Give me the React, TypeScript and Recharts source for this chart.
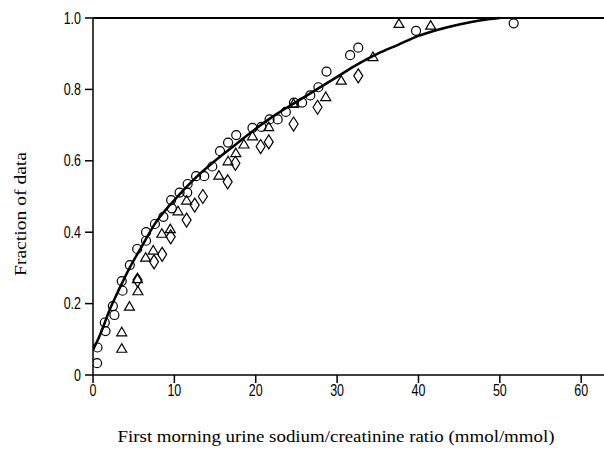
import React from 'react';
import { ComposedChart, XAxis, YAxis, Line, Scatter, ReferenceLine, Label } from 'recharts';

// Cumulative fraction of observations, three groups (open circles, triangles, diamonds)
const circlePoints = [
  { x: 0.5, y: 0.033 }, { x: 0.55, y: 0.077 }, { x: 1.45, y: 0.147 }, { x: 1.54, y: 0.123 },
  { x: 2.44, y: 0.193 }, { x: 2.63, y: 0.168 }, { x: 3.53, y: 0.263 }, { x: 3.63, y: 0.236 },
  { x: 4.53, y: 0.308 }, { x: 5.43, y: 0.353 }, { x: 6.52, y: 0.376 }, { x: 6.52, y: 0.4 },
  { x: 7.61, y: 0.423 }, { x: 8.65, y: 0.443 }, { x: 9.6, y: 0.49 }, { x: 9.69, y: 0.467 },
  { x: 10.64, y: 0.511 }, { x: 11.58, y: 0.511 }, { x: 11.63, y: 0.535 }, { x: 12.67, y: 0.557 },
  { x: 13.67, y: 0.557 }, { x: 14.66, y: 0.584 }, { x: 15.61, y: 0.627 }, { x: 16.6, y: 0.651 },
  { x: 17.6, y: 0.672 }, { x: 19.6, y: 0.692 }, { x: 20.7, y: 0.695 }, { x: 21.7, y: 0.716 },
  { x: 22.7, y: 0.716 }, { x: 23.7, y: 0.737 }, { x: 24.7, y: 0.763 }, { x: 25.7, y: 0.763 },
  { x: 26.7, y: 0.783 }, { x: 27.7, y: 0.806 }, { x: 28.7, y: 0.85 }, { x: 31.6, y: 0.896 },
  { x: 32.6, y: 0.917 }, { x: 39.7, y: 0.964 }, { x: 51.7, y: 0.985 },
];

const trianglePoints = [
  { x: 3.53, y: 0.075 }, { x: 3.53, y: 0.121 }, { x: 4.48, y: 0.193 }, { x: 5.52, y: 0.236 },
  { x: 5.47, y: 0.27 }, { x: 6.47, y: 0.33 }, { x: 7.4, y: 0.35 }, { x: 8.46, y: 0.397 },
  { x: 9.5, y: 0.41 }, { x: 10.45, y: 0.46 }, { x: 11.5, y: 0.49 }, { x: 15.47, y: 0.56 },
  { x: 16.6, y: 0.6 }, { x: 17.55, y: 0.623 }, { x: 18.55, y: 0.647 }, { x: 19.6, y: 0.67 },
  { x: 21.6, y: 0.696 }, { x: 24.65, y: 0.761 }, { x: 28.6, y: 0.78 }, { x: 30.5, y: 0.826 },
  { x: 34.4, y: 0.892 }, { x: 37.6, y: 0.985 }, { x: 41.5, y: 0.98 },
];

const diamondPoints = [
  { x: 5.47, y: 0.266 }, { x: 7.5, y: 0.317 }, { x: 8.5, y: 0.338 }, { x: 9.55, y: 0.387 },
  { x: 11.5, y: 0.434 }, { x: 12.5, y: 0.476 }, { x: 13.5, y: 0.5 }, { x: 16.55, y: 0.541 },
  { x: 17.5, y: 0.593 }, { x: 20.6, y: 0.64 }, { x: 21.6, y: 0.653 }, { x: 24.65, y: 0.703 },
  { x: 27.6, y: 0.75 }, { x: 32.6, y: 0.838 },
];

// Fitted cumulative curve
const fitCurve = [
  { x: 0, y: 0.07 }, { x: 1, y: 0.12 }, { x: 2, y: 0.18 }, { x: 3, y: 0.23 },
  { x: 4.5, y: 0.3 }, { x: 6, y: 0.36 }, { x: 7.5, y: 0.42 }, { x: 10, y: 0.49 },
  { x: 12.5, y: 0.55 }, { x: 15, y: 0.6 }, { x: 17.5, y: 0.645 }, { x: 20, y: 0.69 },
  { x: 22.5, y: 0.73 }, { x: 25, y: 0.765 }, { x: 27.5, y: 0.8 }, { x: 30, y: 0.835 },
  { x: 32.5, y: 0.87 }, { x: 35, y: 0.9 }, { x: 37.5, y: 0.925 }, { x: 40, y: 0.95 },
  { x: 42.5, y: 0.968 }, { x: 45, y: 0.982 }, { x: 47.5, y: 0.993 }, { x: 50, y: 1.0 },
];

const xTicks = [0, 10, 20, 30, 40, 50, 60];
const yTicks = [0, 0.2, 0.4, 0.6, 0.8, 1.0];

const tickFont = "'Liberation Sans', 'DejaVu Sans', sans-serif";
const titleFont = "'Liberation Serif', 'DejaVu Serif', serif";

const formatY = (v: number) => (v === 0 ? '0' : v.toFixed(1));

// Narrow tick labels: glyphs squeezed horizontally
const XTick = (props: any) => {
  const { x, y, payload } = props;
  return (
    <text
      transform={`translate(${x},${y + 13}) scale(0.78,1)`}
      textAnchor="middle"
      fontSize={16}
      fontFamily={tickFont}
      fill="#000"
    >
      {payload.value}
    </text>
  );
};

const YTick = (props: any) => {
  const { x, y, payload } = props;
  return (
    <text
      transform={`translate(${x},${y + 5.5}) scale(0.78,1)`}
      textAnchor="end"
      fontSize={16}
      fontFamily={tickFont}
      fill="#000"
    >
      {formatY(payload.value)}
    </text>
  );
};

const CircleMark = (props: any) => (
  <circle cx={props.cx} cy={props.cy} r={4.5} fill="none" stroke="#000" strokeWidth={1.2} />
);

const TriangleMark = (props: any) => {
  const { cx, cy } = props;
  return (
    <polygon
      points={`${cx},${cy - 4.5} ${cx - 5},${cy + 4} ${cx + 5},${cy + 4}`}
      fill="none"
      stroke="#000"
      strokeWidth={1.2}
    />
  );
};

const DiamondMark = (props: any) => {
  const { cx, cy } = props;
  return (
    <polygon
      points={`${cx},${cy - 7} ${cx + 4.5},${cy} ${cx},${cy + 7} ${cx - 4.5},${cy}`}
      fill="none"
      stroke="#000"
      strokeWidth={1.2}
    />
  );
};

export default function App() {
  return (
    <div style={{ position: 'absolute', left: 0, top: 0, width: 604, height: 451, background: '#fff' }}>
      <ComposedChart width={604} height={451} margin={{ top: 18, right: 0, bottom: 46, left: 33 }}>
        <XAxis
          type="number"
          dataKey="x"
          domain={[0, 62.8]}
          ticks={xTicks}
          allowDataOverflow
          axisLine={{ stroke: '#000', strokeWidth: 1.5 }}
          tickLine={{ stroke: '#000', strokeWidth: 1.5 }}
          tickSize={8}
          tickMargin={0}
          height={30}
          tick={<XTick />}
        >
          <Label
            content={() => (
              <text
                x={336}
                y={442}
                textAnchor="middle"
                fontSize={16}
                textLength={437}
                lengthAdjust="spacingAndGlyphs"
                fontFamily={titleFont}
                fill="#000"
              >
                First morning urine sodium/creatinine ratio (mmol/mmol)
              </text>
            )}
          />
        </XAxis>
        <YAxis
          type="number"
          dataKey="y"
          domain={[0, 1]}
          ticks={yTicks}
          width={60}
          axisLine={{ stroke: '#000', strokeWidth: 1.5 }}
          tickLine={{ stroke: '#000', strokeWidth: 1.5 }}
          tickSize={8}
          tickMargin={4}
          tick={<YTick />}
        >
          <Label
            content={() => (
              <text
                x={20}
                y={214}
                transform="rotate(-90 20 214)"
                textAnchor="middle"
                dominantBaseline="central"
                fontSize={16}
                textLength={124}
                lengthAdjust="spacingAndGlyphs"
                fontFamily={titleFont}
                fill="#000"
              >
                Fraction of data
              </text>
            )}
          />
        </YAxis>
        <ReferenceLine y={1} stroke="#000" strokeWidth={2} />
        <Line
          data={fitCurve}
          dataKey="y"
          type="monotone"
          stroke="#000"
          strokeWidth={2.5}
          dot={false}
          activeDot={false}
          isAnimationActive={false}
        />
        <Scatter data={circlePoints} dataKey="y" shape={CircleMark} isAnimationActive={false} />
        <Scatter data={trianglePoints} dataKey="y" shape={TriangleMark} isAnimationActive={false} />
        <Scatter data={diamondPoints} dataKey="y" shape={DiamondMark} isAnimationActive={false} />
      </ComposedChart>
    </div>
  );
}
